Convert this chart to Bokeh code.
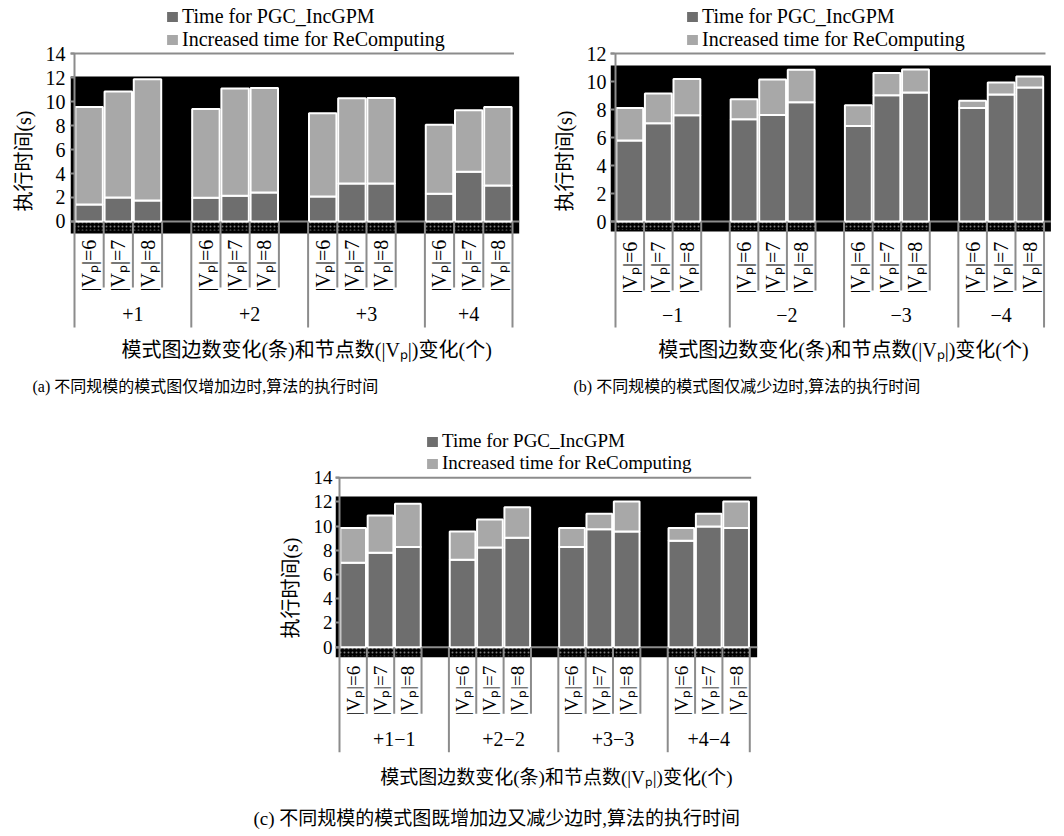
import math
from bokeh.plotting import figure
from bokeh.models import ColumnDataSource, FixedTicker, Legend, LegendItem, Label, Spacer, Title
from bokeh.layouts import column, row
from bokeh.core.properties import value
from bokeh.embed import file_html
from bokeh.resources import INLINE

# ---------------- data ----------------
groups_a = ["+1", "+2", "+3", "+4"]
groups_b = ["\u22121", "\u22122", "\u22123", "\u22124"]
groups_c = ["+1\u22121", "+2\u22122", "+3\u22123", "+4\u22124"]
vp_labels = ["|V\u209a|=6", "|V\u209a|=7", "|V\u209a|=8"]
series_names = ["Time for PGC_IncGPM", "Increased time for ReComputing"]

pgc_a = [1.42, 2.00, 1.75, 1.98, 2.14, 2.42, 2.09, 3.17, 3.17, 2.31, 4.15, 3.00]
recomp_a = [8.13, 8.83, 10.11, 7.40, 8.94, 8.71, 6.93, 7.10, 7.13, 5.76, 5.12, 6.55]
pgc_b = [5.78, 7.02, 7.59, 7.30, 7.61, 8.52, 6.83, 9.02, 9.21, 8.11, 9.07, 9.57]
recomp_b = [2.33, 2.12, 2.58, 1.44, 2.53, 2.32, 1.48, 1.58, 1.65, 0.51, 0.86, 0.79]
pgc_c = [6.97, 7.80, 8.27, 7.22, 8.24, 9.04, 8.27, 9.75, 9.56, 8.79, 9.98, 9.84]
recomp_c = [2.89, 3.08, 3.58, 2.34, 2.31, 2.53, 1.59, 1.27, 2.48, 1.07, 1.04, 2.20]

y_ticks_a = [0, 2, 4, 6, 8, 10, 12, 14]
y_ticks_b = [0, 2, 4, 6, 8, 10, 12]
y_ticks_c = [0, 2, 4, 6, 8, 10, 12, 14]

y_title = "执行时间(s)"
x_title = "模式图边数变化(条)和节点数(|V\u209a|)变化(个)"
caption_a = "(a)  不同规模的模式图仅增加边时,算法的执行时间"
caption_b = "(b)  不同规模的模式图仅减少边时,算法的执行时间"
caption_c = "(c)  不同规模的模式图既增加边又减少边时,算法的执行时间"

# ---------------- style ----------------
SERIF = "Liberation Serif"
MIXED = "Liberation Serif, Noto Sans CJK SC"
DARK = "#6e6e6e"
LIGHT = "#a8a8a8"
GRAY = "#8c8c8c"


def make_panel(groups, pgc, recomp, yticks, caption, cfg):
    n_sub = len(vp_labels)
    slot = n_sub + 1
    xs, labs = [], []
    for g in range(len(groups)):
        for i in range(n_sub):
            xs.append(g * slot + i + 0.5)
            labs.append(vp_labels[i])
    x_last = len(groups) * slot - 1
    src = ColumnDataSource(dict(x=xs, pgc=pgc, recomp=recomp, lab=labs))
    ymax = yticks[-1]

    p = figure(width=cfg["w"], height=cfg["h"],
               x_range=(cfg["x0"], cfg["x1"]), y_range=(cfg["y0"], cfg["y1"]),
               x_axis_type=None, output_backend="svg", toolbar_location=None,
               min_border_left=cfg["ml"], min_border_right=0, min_border_top=0,
               min_border_bottom=cfg["mb"], title=None, outline_line_color=None,
               background_fill_color="white", border_fill_color="white")
    p.grid.visible = False

    ax = p.yaxis[0]
    ax.ticker = FixedTicker(ticks=yticks)
    ax.axis_line_color = None
    ax.major_tick_in = 4
    ax.major_tick_out = 0
    ax.major_tick_line_color = GRAY
    ax.major_tick_line_width = 2
    ax.minor_tick_line_color = None
    ax.major_label_text_font = SERIF
    ax.major_label_text_font_size = cfg["fs"]
    ax.major_label_text_color = "black"
    ax.major_label_standoff = cfg["standoff"]

    # black band behind the bars (as in the scanned figure)
    p.quad(left=[cfg["x0"]], right=[cfg["band_r"]], bottom=[cfg["band_b"]],
           top=[cfg["band_t"]], fill_color="black", line_color=None)
    # dotted strip below zero
    p.vbar(x="x", width=1.0, top=0, bottom=cfg["strip"], source=src,
           fill_color="black", line_color=None, hatch_pattern="dot",
           hatch_color="#7a7a7a", hatch_scale=4, hatch_weight=1.5)
    # top line and zero line
    p.segment(x0=[cfg["x0"]], y0=[ymax], x1=[x_last + 0.05], y1=[ymax],
              line_color=GRAY, line_width=2)
    p.segment(x0=[cfg["x0"]], y0=[0], x1=[cfg["band_r"]], y1=[0],
              line_color=GRAY, line_width=2)

    rs = p.vbar_stack(["pgc", "recomp"], x="x", width=0.94, source=src,
                      fill_color=[DARK, LIGHT], line_color="white", line_width=2)

    # label grid lines
    sx0, sy0, sx1, sy1 = [], [], [], []
    for g in range(len(groups)):
        left = g * slot
        edges = [left + k for k in range(n_sub + 1)]
        for k, e in enumerate(edges):
            long_line = (k == 0) or (g == len(groups) - 1 and k == n_sub)
            sx0.append(e); sx1.append(e)
            sy0.append(ymax if e == 0 else 0)
            sy1.append(cfg["long"] if long_line else cfg["short"])
    p.segment(x0=sx0, y0=sy0, x1=sx1, y1=sy1, line_color=GRAY, line_width=2)

    # rotated sub-category labels
    p.text(x="x", y=cfg["rot_y"], text="lab", source=src, angle=math.pi / 2,
           text_align="center", text_baseline="middle",
           text_font=value(SERIF), text_font_size=cfg["fs"], text_color="black")

    # group labels
    gx = []
    for g in range(len(groups)):
        left = g * slot
        right = (g + 1) * slot if g < len(groups) - 1 else x_last
        gx.append((left + right) / 2)
    p.text(x=gx, y=[cfg["grp_y"]] * len(groups), text=groups,
           text_align="center", text_baseline="middle",
           text_font=value(SERIF), text_font_size="20px", text_color="black")

    # x axis title (inside the drawing area)
    p.add_layout(Label(x=cfg["xt"][0], y=cfg["xt"][1], text=x_title,
                       text_align="center", text_baseline="middle",
                       text_font=MIXED, text_font_size=cfg["xt_fs"], text_color="black"))

    # y axis title and caption as side titles
    p.add_layout(Title(text=y_title, align="right", offset=cfg["yt_off"],
                       vertical_align="middle", text_font=MIXED,
                       text_font_size="20px", text_font_style="normal",
                       text_color="black", standoff=cfg["yt_so"]), "left")
    p.add_layout(Title(text=caption, align="left", offset=cfg["cap_off"],
                       vertical_align="middle", text_font=MIXED,
                       text_font_size=cfg["cap_fs"], text_font_style="normal",
                       text_color="black", standoff=cfg["cap_so"]), "below")

    legend = Legend(items=[LegendItem(label=series_names[0], renderers=[rs[0]]),
                           LegendItem(label=series_names[1], renderers=[rs[1]])],
                    location=cfg["leg"], orientation="vertical",
                    label_text_font=SERIF, label_text_font_size=cfg["fs"],
                    label_text_color="black",
                    glyph_width=16, glyph_height=15, label_standoff=2,
                    label_height=20, spacing=0, padding=0, margin=0,
                    border_line_color=None, background_fill_alpha=0)
    p.add_layout(legend)
    return p


cfg_a = dict(w=528, h=410, ml=70, mb=40, x0=-0.137, x1=15.548, y0=-12.42, y1=18.42,
             band_r=15.23, band_t=12.08, band_b=-1.0, strip=-0.75,
             short=-5.5, long=-8.83, rot_y=-3.67, grp_y=-7.67,
             xt=(7.95, -10.75), yt_off=110, yt_so=14, cap_off=-38, cap_so=12,
             leg=(94, 319), standoff=5, fs="20px", xt_fs="20px", cap_fs="16px")
cfg_b = dict(w=536, h=410, ml=82, mb=40, x0=-0.175, x1=15.716, y0=-10.643, y1=15.786,
             band_r=15.24, band_t=11.14, band_b=-0.71, strip=-0.6,
             short=-4.93, long=-7.57, rot_y=-3.29, grp_y=-6.71,
             xt=(7.98, -9.21), yt_off=110, yt_so=14, cap_off=-37, cap_so=12,
             leg=(74, 319), standoff=4, fs="20px", xt_fs="20px", cap_fs="16px")
cfg_c = dict(w=560, h=426, ml=85, mb=36, x0=-0.146, x1=17.22, y0=-12.67, y1=19.56,
             band_r=15.27, band_t=12.45, band_b=-0.83, strip=-0.75,
             short=-5.5, long=-8.68, rot_y=-3.58, grp_y=-7.55,
             xt=(7.93, -10.8), yt_off=127, yt_so=16, cap_off=-82, cap_so=12,
             leg=(89, 326), standoff=3, fs="19px", xt_fs="19px", cap_fs="19px")

pa = make_panel(groups_a, pgc_a, recomp_a, y_ticks_a, caption_a, cfg_a)
pb = make_panel(groups_b, pgc_b, recomp_b, y_ticks_b, caption_b, cfg_b)
pc = make_panel(groups_c, pgc_c, recomp_c, y_ticks_c, caption_c, cfg_c)

layout = column(row(pa, pb), row(Spacer(width=250, height=426), pc))
open("out.html", "w").write(file_html(layout, INLINE))
